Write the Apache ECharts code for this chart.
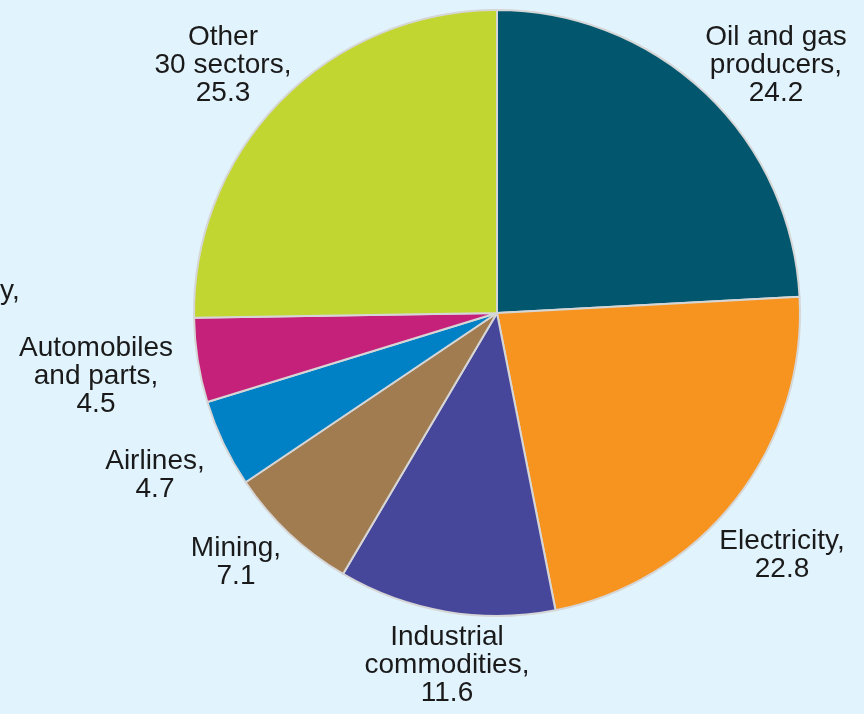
<!DOCTYPE html>
<html><head><meta charset="UTF-8">
<title>Sectors pie</title>
<script src="https://cdn.jsdelivr.net/npm/echarts@6/dist/echarts.min.js"></script>
<style>
  html, body { margin: 0; padding: 0; background: #e1f3fd; }
  #g1 { width: 864px; height: 714px; }
</style>
</head>
<body>
<div id="g1"></div>
<script type="text/javascript">
// sectors, clockwise from 12 o'clock
var sectors = ['Oil and gas\nproducers,', 'Electricity,', 'Industrial\ncommodities,', 'Mining,',
               'Airlines,', 'Automobiles\nand parts,', 'Other\n30 sectors,'];
var shares = [24.2, 22.8, 11.6, 7.1, 4.7, 4.5, 25.3];
var colors = ['#02566d', '#f7941f', '#46479b', '#a27c51', '#0081c6', '#c5217b', '#c2d631'];

var cx = 497, cy = 313, rad = 303;
// label block centres (pixels), same order as sectors
var labelPos = [[776, 65], [782, 555], [447, 665], [236, 562], [155, 475], [96, 376], [223, 65]];

var pieData = sectors.map(function (name, i) {
    return { name: name, value: shares[i], itemStyle: { color: colors[i] } };
});

var myChart = echarts.init(document.getElementById('g1'));
myChart.setOption({
    backgroundColor: '#e1f3fd',
    animation: false,
    graphic: [{
        type: 'text', left: 0, top: 277,
        style: { text: 'y,', fontFamily: 'Liberation Sans', fontSize: 28, fill: '#1a1a1a' }
    }],
    series: [{
        type: 'pie',
        center: [cx, cy],
        radius: [0, rad],
        startAngle: 90,
        clockwise: true,
        avoidLabelOverlap: false,
        itemStyle: { borderColor: '#d6d6d6', borderWidth: 2 },
        label: {
            show: true,
            position: 'outside',
            formatter: function (p) { return p.name + '\n' + p.value.toFixed(1); },
            fontFamily: 'Liberation Sans',
            fontSize: 28,
            lineHeight: 28,
            color: '#1a1a1a',
            align: 'center'
        },
        labelLine: { show: false },
        labelLayout: function (params) {
            var p = labelPos[params.dataIndex];
            return { x: p[0], y: p[1], align: 'center', verticalAlign: 'middle' };
        },
        data: pieData
    }]
});
</script>
</body>
</html>
